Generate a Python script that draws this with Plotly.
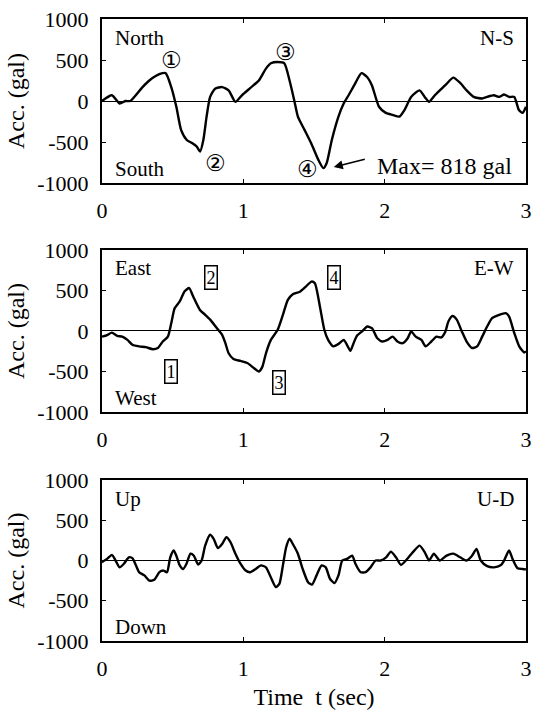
import plotly.graph_objects as go

# ---------------- data ----------------
ns_t = [0.0, 0.07, 0.124, 0.167, 0.2, 0.287, 0.335, 0.41, 0.45, 0.49, 0.526, 0.56, 0.6, 0.634, 0.67, 0.694,
        0.717, 0.74, 0.765, 0.8, 0.85, 0.896, 0.944, 0.99, 1.05, 1.11, 1.16, 1.195, 1.243, 1.29, 1.327, 1.36,
        1.386, 1.434, 1.48, 1.53, 1.566, 1.59, 1.626, 1.673, 1.71, 1.745, 1.79, 1.836, 1.877, 1.91, 1.96,
        2.008, 2.056, 2.104, 2.14, 2.187, 2.247, 2.283, 2.314, 2.355, 2.39, 2.438, 2.486, 2.534, 2.58, 2.63,
        2.69, 2.725, 2.773, 2.81, 2.845, 2.88, 2.917, 2.95, 2.976, 3.0]
ns_a = [0, 70, -30, 0, 0, 170, 250, 330, 340, 170, -70, -355, -475, -510, -555, -615,
        -475, -190, 50, 150, 170, 130, -10, 70, 160, 250, 395, 460, 475, 460, 250, 10,
        -190, -355, -515, -715, -818, -755, -475, -190, -30, 70, 210, 340, 290, 190, -70,
        -145, -170, -190, -110, 50, 130, 50, -10, 70, 130, 210, 285, 220, 130, 50,
        30, 50, 70, 50, 80, 50, 50, -110, -145, -70]

ew_t = [0.0, 0.036, 0.07, 0.108, 0.143, 0.18, 0.215, 0.263, 0.31, 0.36, 0.395, 0.43, 0.466, 0.49, 0.514,
        0.55, 0.585, 0.617, 0.645, 0.693, 0.73, 0.765, 0.813, 0.849, 0.873, 0.896, 0.93, 0.98, 1.028, 1.076,
        1.11, 1.135, 1.16, 1.195, 1.243, 1.28, 1.315, 1.35, 1.4, 1.446, 1.482, 1.506, 1.542, 1.573, 1.6,
        1.637, 1.673, 1.71, 1.733, 1.757, 1.78, 1.805, 1.84, 1.877, 1.91, 1.948, 1.984, 2.02, 2.056, 2.09,
        2.128, 2.163, 2.187, 2.22, 2.26, 2.29, 2.33, 2.367, 2.4, 2.43, 2.45, 2.48, 2.51, 2.546, 2.58, 2.618,
        2.654, 2.69, 2.725, 2.76, 2.81, 2.857, 2.88, 2.917, 2.952, 2.988, 3.0]
ew_a = [-70, -50, -20, -60, -70, -110, -170, -190, -200, -225, -210, -130, -70, 95, 280,
        365, 490, 530, 425, 260, 200, 140, 35, -45, -150, -275, -345, -370, -395, -460,
        -500, -440, -275, -110, 15, 200, 385, 455, 485, 555, 610, 590, 300, 15, -110,
        -190, -160, -110, -170, -245, -150, -55, -5, 55, 35, -90, -130, -110, -70, -130,
        -150, -90, -5, -70, -110, -190, -130, -70, -80, -5, 115, 185, 140, -5, -130, -210,
        -190, -70, 55, 160, 200, 220, 180, -25, -190, -265, -250]

ud_t = [0.0, 0.036, 0.07, 0.096, 0.124, 0.155, 0.19, 0.215, 0.24, 0.263, 0.3, 0.335, 0.37, 0.406, 0.435,
        0.46, 0.483, 0.507, 0.526, 0.55, 0.574, 0.598, 0.626, 0.65, 0.68, 0.705, 0.73, 0.765, 0.79, 0.82,
        0.85, 0.88, 0.908, 0.944, 0.98, 1.016, 1.05, 1.088, 1.124, 1.16, 1.195, 1.23, 1.255, 1.28, 1.303,
        1.327, 1.35, 1.386, 1.42, 1.458, 1.486, 1.518, 1.554, 1.583, 1.614, 1.645, 1.673, 1.7, 1.733, 1.77,
        1.793, 1.83, 1.865, 1.9, 1.936, 1.972, 2.01, 2.044, 2.08, 2.115, 2.15, 2.2, 2.247, 2.283, 2.314,
        2.348, 2.39, 2.438, 2.486, 2.534, 2.58, 2.618, 2.65, 2.68, 2.725, 2.773, 2.82, 2.845, 2.88, 2.905,
        2.94, 2.976, 3.0]
ud_a = [-20, 20, 70, 0, -85, -40, 40, 30, -60, -145, -185, -250, -240, -145, -125,
        -145, 40, 125, 60, -60, -105, -40, 85, 60, -50, 0, 185, 320, 270, 155,
        205, 290, 230, 85, -40, -125, -145, -105, -60, -85, -210, -330, -290, -60, 165,
        270, 205, 85, -105, -270, -300, -185, -60, -85, -230, -280, -185, 0, 20, 60,
        -40, -145, -145, -85, 0, 0, 40, 110, 40, -55, 0, 105, 185, 105, 0,
        85, 0, 60, 85, 40, 0, 60, 145, 0, -70, -85, -60, 0, 125, 20,
        -95, -105, -110]

x_ticks = [0, 1, 2, 3]
y_ticks = [-1000, -500, 0, 500, 1000]
y_ticktext = ["-1000", "-500", "0", "500", "1000"]
y_title = "Acc. (gal)"
x_title = "Time  t (sec)"

# ---------------- figure ----------------
FONT = "Liberation Serif, Times New Roman, serif"
fig = go.Figure()
series = [(ns_t, ns_a), (ew_t, ew_a), (ud_t, ud_a)]
for i, (t, a) in enumerate(series):
    sfx = "" if i == 0 else str(i + 1)
    fig.add_trace(go.Scatter(x=t, y=a, mode="lines", xaxis="x" + sfx, yaxis="y" + sfx,
                             line=dict(color="black", width=2.4, shape="spline", smoothing=0.6),
                             showlegend=False, hoverinfo="skip"))

domains = [[0.7363, 1.0], [0.3682, 0.6286], [0.0, 0.2588]]
tickfont = dict(family=FONT, size=22, color="black")
layout = dict(
    width=538, height=715,
    margin=dict(l=102, r=6, t=19, b=74),
    paper_bgcolor="white", plot_bgcolor="white",
    font=dict(family=FONT, color="black"),
    showlegend=False,
)
for i in range(3):
    sfx = "" if i == 0 else str(i + 1)
    layout["xaxis" + sfx] = dict(
        domain=[0, 1], anchor="y" + sfx, range=[0, 3], tickvals=x_ticks,
        ticks="inside", ticklen=4, tickwidth=1, tickcolor="black",
        showline=True, linecolor="black", linewidth=2, mirror="ticks",
        showgrid=False, zeroline=False, tickfont=tickfont, ticklabelstandoff=7,
        title=dict(text=x_title if i == 2 else "", font=dict(family=FONT, size=24), standoff=8),
    )
    layout["yaxis" + sfx] = dict(
        domain=domains[i], anchor="x" + sfx, range=[-1000, 1000], tickvals=y_ticks, ticktext=y_ticktext,
        ticks="inside", ticklen=4, tickwidth=1, tickcolor="black",
        showline=True, linecolor="black", linewidth=2, mirror="ticks",
        showgrid=False, zeroline=True, zerolinecolor="black", zerolinewidth=1.2,
        tickfont=tickfont, ticklabelstandoff=7,
        title=dict(text=y_title, font=dict(family=FONT, size=24), standoff=6),
    )
fig.update_layout(**layout)

lbl = dict(family=FONT, size=21, color="black")
ann = []
def txt(xr, yr, x, y, s, xanchor="left", font=lbl, **kw):
    ann.append(dict(xref=xr, yref=yr, x=x, y=y, text=s, showarrow=False, xanchor=xanchor,
                    yanchor="middle", font=font, **kw))

# N-S panel
txt("x", "y", 0.08, 770, "North")
txt("x", "y", 2.93, 770, "N-S", xanchor="right")
txt("x", "y", 0.08, -830, "South")
circ = dict(family="DejaVu Sans", size=23, color="black")
txt("x", "y", 0.49, 500, "①", xanchor="center", font=circ)
txt("x", "y", 0.80, -750, "②", xanchor="center", font=circ)
txt("x", "y", 1.30, 600, "③", xanchor="center", font=circ)
txt("x", "y", 1.455, -830, "④", xanchor="center", font=circ)
txt("x", "y", 1.93, -790, "Max= 818 gal", font=dict(family=FONT, size=24, color="black"))
ann.append(dict(xref="x", yref="y", x=1.64, y=-805, axref="x", ayref="y", ax=1.87, ay=-705,
                text="", showarrow=True, arrowhead=2, arrowsize=1.2, arrowwidth=1.5, arrowcolor="black"))

# E-W panel
txt("x2", "y2", 0.08, 780, "East")
txt("x2", "y2", 2.93, 780, "E-W", xanchor="right")
txt("x2", "y2", 0.08, -830, "West")
box = dict(family=FONT, size=18, color="black")
for (bx, by, s) in [(0.49, -505, "1"), (0.77, 660, "2"), (1.25, -630, "3"), (1.64, 665, "4")]:
    ann.append(dict(xref="x2", yref="y2", x=bx, y=by, text=s, showarrow=False, xanchor="center",
                    yanchor="middle", font=box, bordercolor="black", borderwidth=1.5, borderpad=1))

# U-D panel
txt("x3", "y3", 0.08, 770, "Up")
txt("x3", "y3", 2.93, 770, "U-D", xanchor="right")
txt("x3", "y3", 0.08, -830, "Down")

fig.update_layout(annotations=ann)
fig.write_html("out.html")
